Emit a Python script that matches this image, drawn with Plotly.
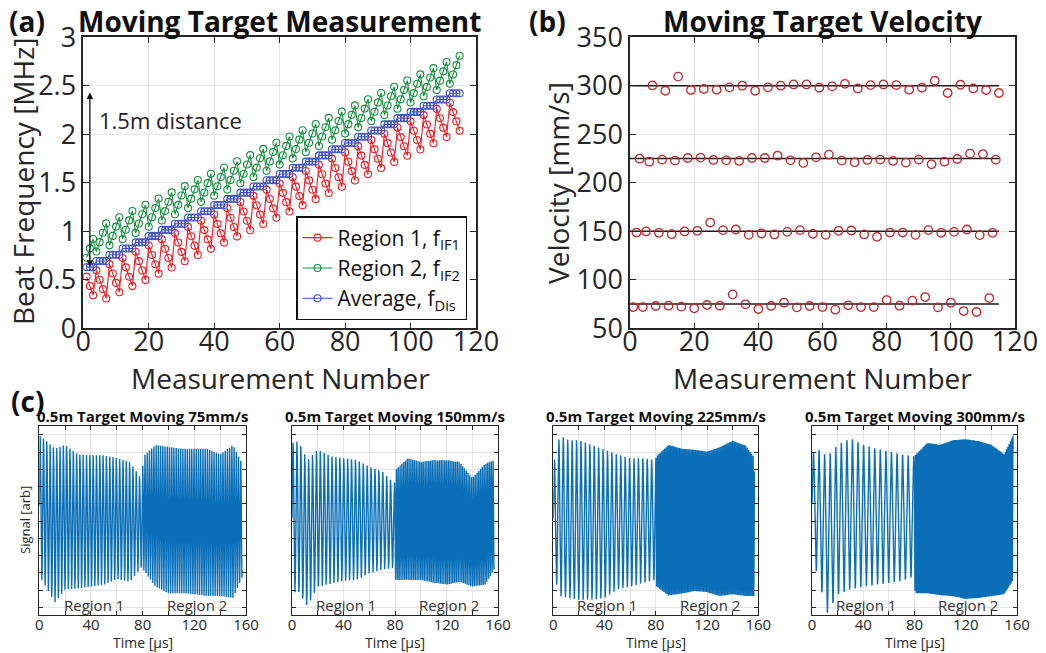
import numpy as np
import plotly.graph_objects as go

FONT = "Open Sans"
TXT = "#262626"
GRID = "#e4e4e4"
W, H = 1046, 653

# ---------------- (a) beat frequencies per measurement [MHz] ----------------
measurement = list(range(1, 116))

f_dis = [0.630, 0.630, 0.630,
         0.694, 0.694, 0.694, 0.694, 0.758, 0.758, 0.758, 0.758,
         0.822, 0.822, 0.822, 0.822, 0.886, 0.886, 0.886, 0.886,
         0.950, 0.950, 0.950, 0.950, 1.014, 1.014, 1.014, 1.014,
         1.078, 1.078, 1.078, 1.078, 1.142, 1.142, 1.142, 1.142,
         1.206, 1.206, 1.206, 1.206, 1.270, 1.270, 1.270, 1.270,
         1.334, 1.334, 1.334, 1.334, 1.398, 1.398, 1.398, 1.398,
         1.462, 1.462, 1.462, 1.462, 1.526, 1.526, 1.526, 1.526,
         1.590, 1.590, 1.590, 1.590, 1.654, 1.654, 1.654, 1.654,
         1.718, 1.718, 1.718, 1.718, 1.782, 1.782, 1.782, 1.782,
         1.846, 1.846, 1.846, 1.846, 1.910, 1.910, 1.910, 1.910,
         1.974, 1.974, 1.974, 1.974, 2.038, 2.038, 2.038, 2.038,
         2.102, 2.102, 2.102, 2.102, 2.166, 2.166, 2.166, 2.166,
         2.230, 2.230, 2.230, 2.230, 2.294, 2.294, 2.294, 2.294,
         2.358, 2.358, 2.358, 2.358, 2.422, 2.422, 2.422, 2.422]

f_if1 = [0.533, 0.436, 0.340,
         0.597, 0.500, 0.404, 0.307, 0.661, 0.564, 0.468, 0.371,
         0.725, 0.628, 0.532, 0.435, 0.789, 0.692, 0.596, 0.499,
         0.853, 0.756, 0.660, 0.563, 0.917, 0.820, 0.724, 0.627,
         0.981, 0.884, 0.788, 0.691, 1.045, 0.948, 0.852, 0.755,
         1.109, 1.012, 0.916, 0.819, 1.173, 1.076, 0.980, 0.883,
         1.237, 1.140, 1.044, 0.947, 1.301, 1.204, 1.108, 1.011,
         1.365, 1.268, 1.172, 1.075, 1.429, 1.332, 1.236, 1.139,
         1.493, 1.396, 1.300, 1.203, 1.557, 1.460, 1.364, 1.267,
         1.621, 1.524, 1.428, 1.331, 1.685, 1.588, 1.492, 1.395,
         1.749, 1.652, 1.556, 1.459, 1.813, 1.716, 1.620, 1.523,
         1.877, 1.780, 1.684, 1.587, 1.941, 1.844, 1.748, 1.651,
         2.005, 1.908, 1.812, 1.715, 2.069, 1.972, 1.876, 1.779,
         2.133, 2.036, 1.940, 1.843, 2.197, 2.100, 2.004, 1.907,
         2.261, 2.164, 2.068, 1.971, 2.325, 2.228, 2.132, 2.035]

f_if2 = [0.727, 0.824, 0.920,
         0.791, 0.888, 0.984, 1.081, 0.855, 0.952, 1.048, 1.145,
         0.919, 1.016, 1.112, 1.209, 0.983, 1.080, 1.176, 1.273,
         1.047, 1.144, 1.240, 1.337, 1.111, 1.208, 1.304, 1.401,
         1.175, 1.272, 1.368, 1.465, 1.239, 1.336, 1.432, 1.529,
         1.303, 1.400, 1.496, 1.593, 1.367, 1.464, 1.560, 1.657,
         1.431, 1.528, 1.624, 1.721, 1.495, 1.592, 1.688, 1.785,
         1.559, 1.656, 1.752, 1.849, 1.623, 1.720, 1.816, 1.913,
         1.687, 1.784, 1.880, 1.977, 1.751, 1.848, 1.944, 2.041,
         1.815, 1.912, 2.008, 2.105, 1.879, 1.976, 2.072, 2.169,
         1.943, 2.040, 2.136, 2.233, 2.007, 2.104, 2.200, 2.297,
         2.071, 2.168, 2.264, 2.361, 2.135, 2.232, 2.328, 2.425,
         2.199, 2.296, 2.392, 2.489, 2.263, 2.360, 2.456, 2.553,
         2.327, 2.424, 2.520, 2.617, 2.391, 2.488, 2.584, 2.681,
         2.455, 2.552, 2.648, 2.745, 2.519, 2.616, 2.712, 2.809]

# ---------------- (b) velocity estimates [mm/s] ----------------
n_75 = [1, 4, 8, 12, 16, 20, 24, 28, 32, 36, 40, 44, 48, 52, 56, 60, 64, 68,
        72, 76, 80, 84, 88, 92, 96, 100, 104, 108, 112]
v_75 = [71.9, 71.9, 73.0, 73.3, 72.3, 70.6, 74.0, 73.3, 85.0, 74.7, 69.9, 73.0,
        76.4, 71.6, 73.0, 71.9, 69.2, 73.7, 71.9, 71.9, 79.1, 73.3, 78.5, 82.2,
        71.6, 76.4, 67.8, 66.8, 81.2]
n_150 = [2, 5, 9, 13, 17, 21, 25, 29, 33, 37, 41, 45, 49, 53, 57, 61, 65, 69,
         73, 77, 81, 85, 89, 93, 97, 101, 105, 109, 113]
v_150 = [148.7, 149.8, 148.4, 147.0, 149.8, 150.5, 159.0, 151.2, 151.8, 146.3,
         147.7, 146.7, 149.4, 151.2, 147.4, 146.3, 150.5, 150.8, 146.7, 144.3,
         148.7, 148.7, 146.3, 151.2, 148.4, 149.4, 151.8, 146.0, 148.4]
n_225 = [3, 6, 10, 14, 18, 22, 26, 30, 34, 38, 42, 46, 50, 54, 58, 62, 66, 70,
         74, 78, 82, 86, 90, 94, 98, 102, 106, 110, 114]
v_225 = [224.8, 221.7, 223.8, 222.8, 225.5, 225.9, 223.5, 223.1, 222.5, 225.5,
         225.5, 227.9, 223.1, 220.4, 226.2, 229.0, 222.8, 221.1, 223.5, 223.8,
         222.5, 220.7, 223.8, 219.0, 221.7, 224.5, 230.0, 229.6, 223.8]
n_300 = [7, 11, 15, 19, 23, 27, 31, 35, 39, 43, 47, 51, 55, 59, 63, 67, 71, 75,
         79, 83, 87, 91, 95, 99, 103, 107, 111, 115]
v_300 = [300.3, 294.8, 309.4, 295.6, 296.6, 295.9, 298.3, 300.0, 294.8, 298.3,
         300.0, 301.3, 301.3, 297.9, 299.3, 302.0, 297.2, 300.6, 301.3, 300.6,
         295.9, 297.9, 305.1, 292.5, 301.0, 297.2, 295.6, 292.5]
v_set = [75, 150, 225, 300]
set_span = [0, 115]

# ---------------- (c) beat signals of a 0.5 m target ----------------
speeds = [75, 150, 225, 300]               # mm/s
f_region1 = [0.39, 0.33, 0.29, 0.23]       # MHz, up-chirp beat
f_region2 = [0.58, 0.72, 0.87, 1.00]       # MHz, down-chirp beat
env_t = [0, 5, 12, 20, 30, 40, 50, 60, 70, 79.5, 80.5, 90, 100, 110, 120, 130, 140, 150, 157]
env_hi = [
    [0.90, 0.85, 0.76, 0.80, 0.70, 0.69, 0.69, 0.66, 0.62, 0.43, 0.68, 0.80, 0.78, 0.76, 0.76, 0.76, 0.70, 0.80, 0.60],
    [0.82, 0.84, 0.64, 0.75, 0.68, 0.66, 0.64, 0.57, 0.52, 0.39, 0.54, 0.66, 0.62, 0.64, 0.64, 0.62, 0.45, 0.60, 0.64],
    [0.59, 0.90, 0.85, 0.85, 0.80, 0.75, 0.70, 0.66, 0.66, 0.64, 0.68, 0.80, 0.76, 0.75, 0.73, 0.78, 0.85, 0.80, 0.67],
    [0.71, 0.75, 0.68, 0.80, 0.87, 0.80, 0.76, 0.73, 0.70, 0.68, 0.69, 0.82, 0.80, 0.85, 0.86, 0.84, 0.80, 0.70, 0.90],
]
env_lo = [
    [-0.59, -0.70, -0.87, -0.73, -0.72, -0.70, -0.68, -0.62, -0.65, -0.49, -0.52, -0.70, -0.77, -0.77, -0.78, -0.80, -0.80, -0.82, -0.60],
    [-0.77, -0.75, -0.91, -0.70, -0.67, -0.64, -0.63, -0.56, -0.52, -0.50, -0.63, -0.63, -0.63, -0.66, -0.68, -0.65, -0.70, -0.68, -0.52],
    [-0.55, -0.80, -0.82, -0.84, -0.84, -0.82, -0.73, -0.70, -0.66, -0.63, -0.70, -0.80, -0.78, -0.75, -0.76, -0.80, -0.78, -0.80, -0.80],
    [-0.35, -0.63, -0.98, -0.78, -0.73, -0.70, -0.68, -0.66, -0.64, -0.59, -0.77, -0.77, -0.79, -0.80, -0.83, -0.82, -0.80, -0.78, -0.63],
]
t_chirp = 80.0   # µs, end of up-chirp
t_end = 157.0


def px(x):
    return x / W


def py(y):
    return 1 - y / H


def beat_signal(i):
    t = np.arange(0, t_end, 0.05)
    hi = np.interp(t, env_t, env_hi[i])
    lo = np.interp(t, env_t, env_lo[i])
    phase = np.where(t < t_chirp,
                     2 * np.pi * f_region1[i] * t,
                     2 * np.pi * f_region2[i] * (t - t_chirp) + 2 * np.pi * f_region1[i] * t_chirp)
    return t, (hi + lo) / 2 + (hi - lo) / 2 * np.sin(phase)


fig = go.Figure()

# (a)
for ys, name, col in [(f_if1, "Region 1, f<sub>IF1</sub>", "#ec1c24"),
                      (f_if2, "Region 2, f<sub>IF2</sub>", "#16903f"),
                      (f_dis, "Average, f<sub>Dis</sub>", "#3c4fbf")]:
    fig.add_trace(go.Scatter(x=measurement, y=ys, mode="lines+markers", name=name,
                             line=dict(color=col, width=1.1),
                             marker=dict(symbol="circle-open", size=7, color=col, line=dict(width=1.1)),
                             xaxis="x", yaxis="y"))

# (b)
for v in v_set:
    fig.add_trace(go.Scatter(x=set_span, y=[v, v], mode="lines", line=dict(color="#1a1a1a", width=1.6),
                             showlegend=False, xaxis="x2", yaxis="y2"))
for nn, vv in [(n_75, v_75), (n_150, v_150), (n_225, v_225), (n_300, v_300)]:
    fig.add_trace(go.Scatter(x=nn, y=vv, mode="markers",
                             marker=dict(symbol="circle-open", size=8.5, color="#c1272d", line=dict(width=1.3)),
                             showlegend=False, xaxis="x2", yaxis="y2"))

# (c)
for i in range(4):
    t, s = beat_signal(i)
    fig.add_trace(go.Scatter(x=t, y=s, mode="lines", line=dict(color="#0a6fb8", width=1.4),
                             showlegend=False, xaxis=f"x{i + 3}", yaxis=f"y{i + 3}"))

axis_common = dict(showline=True, linecolor=TXT, linewidth=1.5, mirror="ticks", ticks="inside",
                   tickcolor=TXT, showgrid=True, gridcolor=GRID, gridwidth=1, zeroline=False,
                   automargin=False, tickfont=dict(family=FONT, color=TXT))

ydom_top = [py(328.3), py(37.2)]
big_ticks = dict(family=FONT, size=27, color=TXT)
fig.update_layout(
    xaxis=dict(axis_common, domain=[px(83.3), px(476)], range=[0, 120], dtick=20, ticklen=6,
               tickfont=big_ticks, ticklabelstandoff=-11, anchor="y"),
    yaxis=dict(axis_common, domain=ydom_top, range=[0, 3], dtick=0.5, ticklen=6,
               tickfont=big_ticks, anchor="x"),
    xaxis2=dict(axis_common, domain=[px(630), px(1015)], range=[0, 120], dtick=20, ticklen=6,
                tickfont=big_ticks, ticklabelstandoff=-11, anchor="y2"),
    yaxis2=dict(axis_common, domain=ydom_top, range=[50, 350], dtick=50, ticklen=6,
                tickfont=big_ticks, anchor="x2"),
)

c_dom = [(39.3, 246), (292, 498), (553.3, 758.3), (812, 1017)]
for i, (x0, x1) in enumerate(c_dom):
    k = i + 3
    fig.update_layout({
        f"xaxis{k}": dict(axis_common, domain=[px(x0), px(x1)], range=[0, 160], tick0=0, dtick=40,
                          ticklen=4, linewidth=1.3, ticklabelstandoff=-4,
                          minor=dict(dtick=20, ticks="inside", ticklen=4, tickcolor=TXT,
                                     showgrid=True, gridcolor=GRID),
                          tickfont=dict(family=FONT, size=15, color=TXT), anchor=f"y{k}"),
        f"yaxis{k}": dict(axis_common, domain=[py(615), py(426)], range=[-1, 1], tick0=-0.918,
                          dtick=0.1823, showticklabels=False, ticklen=4, linewidth=1.3,
                          anchor=f"x{k}"),
    })

ann = []


def text(x, y, s, size, bold=False, angle=0, xanchor="center", color="#111111"):
    ann.append(dict(x=px(x), y=py(y), xref="paper", yref="paper", text=f"<b>{s}</b>" if bold else s,
                    showarrow=False, textangle=angle, xanchor=xanchor, yanchor="middle",
                    font=dict(family=FONT, size=size, color=color)))


text(27, 21, "(a)", 28, bold=True)
text(547, 21, "(b)", 28, bold=True)
text(27, 401, "(c)", 28, bold=True)
text(279, 21, "Moving Target Measurement", 28, bold=True)
text(822, 21, "Moving Target Velocity", 28, bold=True)
text(23, 182, "Beat Frequency [MHz]", 28, angle=-90, color=TXT)
text(558, 183, "Velocity [mm/s]", 28, angle=-90, color=TXT)
text(280, 378, "Measurement Number", 28, color=TXT)
text(822, 378, "Measurement Number", 28, color=TXT)
text(25, 520, "Signal [arb]", 13, angle=-90, color=TXT)
for i, (x0, x1) in enumerate(c_dom):
    cx = (x0 + x1) / 2
    text(cx, 416, f"0.5m Target Moving {speeds[i]}mm/s", 15, bold=True)
    text(cx, 642, "Time [µs]", 14, color=TXT)
    for lab, tx in [("Region 1", 42), ("Region 2", 122)]:
        ann.append(dict(x=tx, y=-0.894, xref=f"x{i + 3}", yref=f"y{i + 3}", text=lab, showarrow=False,
                        xanchor="center", yanchor="middle", font=dict(family=FONT, size=15, color="#333333")))

# 1.5 m distance marker
ann.append(dict(x=2, y=2.43, ax=2, ay=0.62, xref="x", yref="y", axref="x", ayref="y", text="",
                showarrow=True, arrowhead=2, arrowside="end+start", arrowsize=1, arrowwidth=1.3,
                arrowcolor="#111111"))
ann.append(dict(x=4.2, y=2.15, xref="x", yref="y", text="1.5m distance", showarrow=False,
                xanchor="left", yanchor="middle", font=dict(family=FONT, size=22, color="#222222")))

fig.update_layout(
    width=W, height=H, margin=dict(l=0, r=0, t=0, b=0),
    paper_bgcolor="white", plot_bgcolor="white",
    annotations=ann,
    legend=dict(x=px(467), y=py(320), xanchor="right", yanchor="bottom", bgcolor="white",
                bordercolor="#111111", borderwidth=1.5, font=dict(family=FONT, size=21, color="#111111"),
                tracegroupgap=0, itemwidth=30),
    showlegend=True,
)

fig.write_html("out.html")
